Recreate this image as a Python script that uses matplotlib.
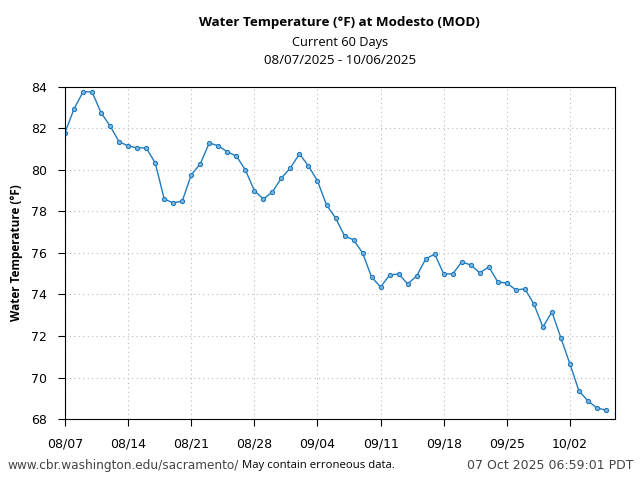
import matplotlib as mpl
mpl.use('Agg')
import matplotlib.pyplot as plt
import matplotlib.dates as mdates
import numpy as np
import datetime as dt

start = dt.date(2025, 8, 7)
temps = [81.8, 82.94, 83.76, 83.76, 82.75, 82.12, 81.35, 81.16, 81.06, 81.06,
         80.34, 78.6, 78.41, 78.5, 79.76, 80.29, 81.3, 81.16, 80.87, 80.67,
         80.0, 79.0, 78.6, 78.94, 79.61, 80.1, 80.77, 80.19, 79.47, 78.31,
         77.69, 76.82, 76.63, 76.0, 74.84, 74.36, 74.94, 74.99, 74.51, 74.89,
         75.71, 75.95, 74.99, 74.99, 75.57, 75.42, 75.04, 75.33, 74.6, 74.55,
         74.22, 74.27, 73.54, 72.43, 73.16, 71.9, 70.65, 69.35, 68.87, 68.53,
         68.43]
dates = [start + dt.timedelta(days=i) for i in range(len(temps))]

fig = plt.figure(figsize=(6.4, 4.8), dpi=100)
ax = fig.add_axes([0.1016, 0.127, 0.8594, 0.692])
ax.plot(dates, temps, color='#1f7bbf', lw=1.0, marker='o', ms=3,
        mfc='#7fb6de', mec='#1f7bbf', mew=0.8)

ax.set_xlim(dt.date(2025, 8, 7), dt.date(2025, 10, 7))
ax.set_ylim(68, 84)
ax.set_yticks(np.arange(68, 85, 2))
ax.set_xticks([start + dt.timedelta(days=7 * k) for k in range(9)])
ax.xaxis.set_major_formatter(mdates.DateFormatter('%m/%d'))
ax.tick_params(labelsize=9, length=5, direction='out', pad=8)
ax.grid(True, ls=(0, (1, 3)), color='#bbbbbb', lw=0.8)
ax.set_ylabel('Water Temperature (°F)', fontsize=8.5, fontweight='bold',
              family='Open Sans', labelpad=6)

cx = 0.531
fig.text(cx, 0.954, 'Water Temperature (°F) at Modesto (MOD)', ha='center',
         va='center', fontsize=9.6, fontweight='bold', family='Open Sans')
fig.text(cx, 0.912, 'Current 60 Days', ha='center', va='center',
         fontsize=9.2, family='Open Sans')
fig.text(cx, 0.873, '08/07/2025 - 10/06/2025', ha='center', va='center',
         fontsize=9.6, family='Open Sans')

fig.text(0.011, 0.031, 'www.cbr.washington.edu/sacramento/', ha='left',
         va='center', fontsize=8.7, color='#444444')
fig.text(0.378, 0.031, 'May contain erroneous data.', ha='left',
         va='center', fontsize=8.2, family='Open Sans')
fig.text(0.99, 0.031, '07 Oct 2025 06:59:01 PDT', ha='right',
         va='center', fontsize=9, color='#444444')

fig.savefig('out.png', dpi=100)
plt.close()
